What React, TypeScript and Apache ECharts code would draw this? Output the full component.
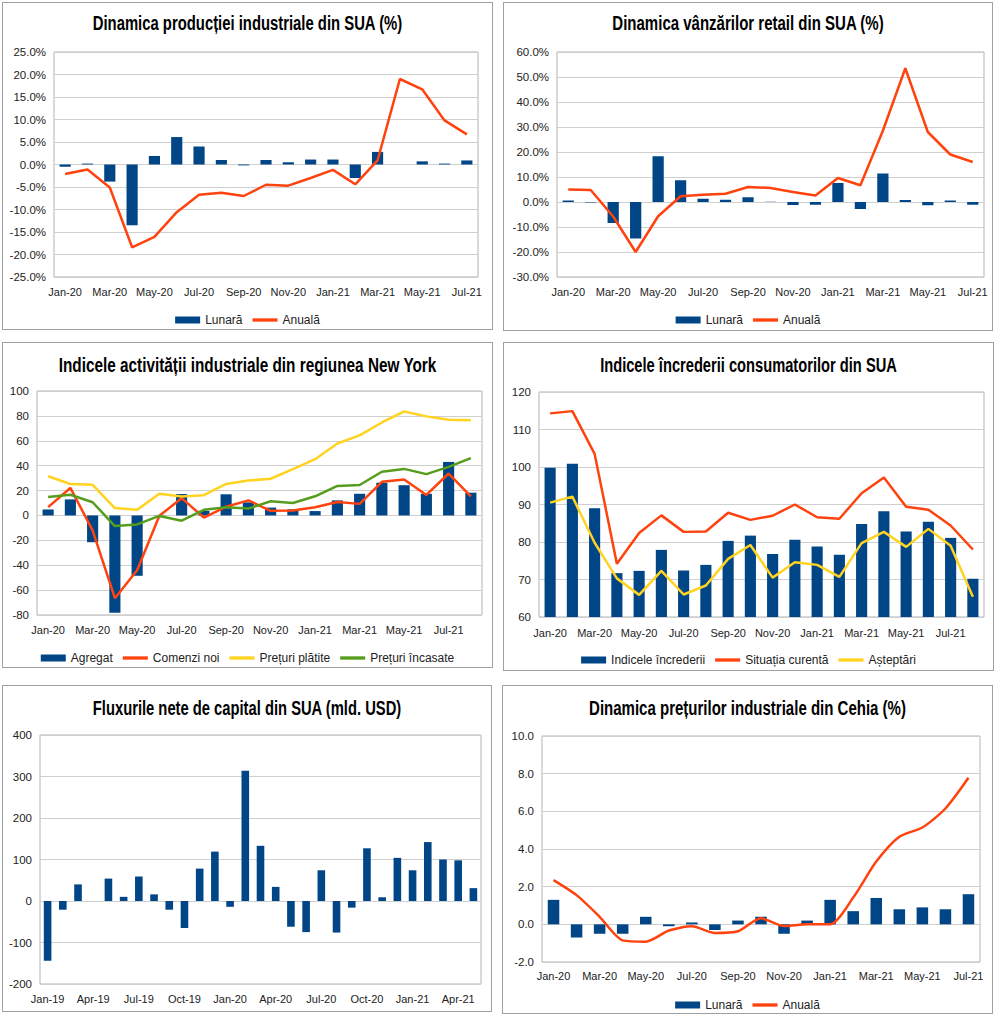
import React, { useEffect, useRef } from "react";
import * as echarts from "echarts";

// ---------- categories ----------
const months19 = ["Jan-20","Feb-20","Mar-20","Apr-20","May-20","Jun-20","Jul-20","Aug-20","Sep-20","Oct-20","Nov-20","Dec-20","Jan-21","Feb-21","Mar-21","Apr-21","May-21","Jun-21","Jul-21"];
const months20 = ["Jan-20","Feb-20","Mar-20","Apr-20","May-20","Jun-20","Jul-20","Aug-20","Sep-20","Oct-20","Nov-20","Dec-20","Jan-21","Feb-21","Mar-21","Apr-21","May-21","Jun-21","Jul-21","Aug-21"];
const months29 = ["Jan-19","Feb-19","Mar-19","Apr-19","May-19","Jun-19","Jul-19","Aug-19","Sep-19","Oct-19","Nov-19","Dec-19","Jan-20","Feb-20","Mar-20","Apr-20","May-20","Jun-20","Jul-20","Aug-20","Sep-20","Oct-20","Nov-20","Dec-20","Jan-21","Feb-21","Mar-21","Apr-21","May-21"];

// ---------- 1. US industrial production (%) ----------
const indProdMonthly = [-0.5, 0.2, -3.8, -13.5, 1.9, 6.1, 4.0, 1.0, -0.2, 1.0, 0.5, 1.1, 1.1, -3.0, 2.8, 0.0, 0.7, 0.2, 0.9];
const indProdAnnual = [-2.1, -1.1, -5.1, -18.4, -16.1, -10.6, -6.7, -6.3, -7.0, -4.5, -4.7, -3.0, -1.2, -4.4, 0.9, 19.0, 16.7, 9.8, 6.7];

// ---------- 2. US retail sales (%) ----------
const retailMonthly = [0.6, -0.2, -8.4, -14.6, 18.3, 8.7, 1.3, 0.9, 1.9, 0.1, -1.2, -1.1, 7.6, -2.8, 11.4, 0.8, -1.3, 0.6, -1.1];
const retailAnnual = [5.0, 4.8, -5.8, -20.0, -5.7, 2.3, 2.9, 3.3, 6.0, 5.6, 4.0, 2.6, 9.6, 6.7, 28.5, 53.5, 28.0, 19.0, 16.0];

// ---------- 3. Empire State manufacturing ----------
const nyAgregat = [4.8, 12.9, -21.5, -78.2, -48.5, -0.2, 17.2, 3.7, 17.0, 10.5, 6.3, 4.9, 3.5, 12.1, 17.4, 26.3, 24.3, 17.4, 43.0, 18.3];
const nyOrders = [6.7, 22.1, -12.0, -66.5, -44.0, -0.3, 13.9, -1.7, 7.0, 12.1, 3.7, 4.0, 6.6, 10.8, 9.3, 27.0, 28.9, 16.5, 33.7, 15.4];
const nyPaid = [31.5, 25.3, 24.6, 5.9, 4.5, 17.4, 15.2, 16.3, 25.3, 28.0, 29.5, 37.2, 45.2, 57.8, 64.3, 74.7, 83.6, 79.6, 76.9, 76.4];
const nyReceived = [14.8, 16.6, 10.6, -8.5, -7.2, -0.4, -4.2, 4.5, 6.6, 5.5, 11.4, 10.0, 15.4, 23.7, 24.5, 35.1, 37.4, 33.2, 39.0, 46.0];

// ---------- 4. US consumer confidence ----------
const ccIndex = [99.8, 100.9, 89.0, 71.7, 72.3, 77.9, 72.4, 73.9, 80.3, 81.7, 76.8, 80.6, 78.8, 76.6, 84.8, 88.2, 82.8, 85.4, 81.1, 70.2];
const ccCurrent = [114.3, 114.9, 103.5, 74.2, 82.4, 87.1, 82.7, 82.8, 87.8, 85.9, 87.0, 90.0, 86.6, 86.2, 93.0, 97.2, 89.4, 88.6, 84.4, 78.0];
const ccExpect = [90.5, 92.1, 79.8, 70.3, 65.9, 72.3, 66.0, 68.4, 75.5, 79.2, 70.5, 74.6, 73.9, 70.7, 79.7, 82.7, 78.7, 83.5, 79.0, 65.4];

// ---------- 5. US net capital flows (bn USD) ----------
const capitalFlows = [-144, -21, 40, 0, 54, 10, 59, 16, -21, -65, 78, 119, -14, 314, 133, 34, -62, -75, 74, -76, -16, 127, 9, 104, 74, 142, 100, 98, 31];

// ---------- 6. Czech industrial prices (%) ----------
const czMonthly = [1.3, -0.7, -0.5, -0.5, 0.4, -0.1, 0.1, -0.3, 0.2, 0.4, -0.5, 0.2, 1.3, 0.7, 1.4, 0.8, 0.9, 0.8, 1.6];
const czAnnual = [2.35, 1.55, 0.4, -0.85, -0.92, -0.33, -0.1, -0.46, -0.37, 0.32, -0.09, 0.0, 0.0, 1.42, 3.33, 4.65, 5.14, 6.15, 7.78];

const BLUE = "#004586";
const ORANGE = "#ff420e";
const YELLOW = "#ffd320";
const GREEN = "#579d1c";
const LABEL_FONT = "Liberation Sans";
const TITLE_FONT = "Liberation Sans";
const TITLE_SIZE = 20;
const LINE_ICON = "path://M0 0H30V4H0Z";

function measure(text: string): number {
  try {
    const c = document.createElement("canvas");
    const ctx = c.getContext("2d");
    if (!ctx) return text.length * 10;
    ctx.font = `bold ${TITLE_SIZE}px "${TITLE_FONT}"`;
    return ctx.measureText(text).width;
  } catch (e) {
    return text.length * 10;
  }
}

type Box = { l: number; t: number; w: number; h: number };

function Chart({ box, option }: { box: Box; option: any }) {
  const ref = useRef<HTMLDivElement>(null);
  useEffect(() => {
    const c = echarts.init(ref.current as HTMLDivElement, null, { renderer: "svg" });
    c.setOption(option);
    return () => c.dispose();
  }, []);
  return (
    <div
      style={{
        position: "absolute",
        left: box.l,
        top: box.t,
        width: box.w,
        height: box.h,
        border: "1px solid #a0a0a0",
        boxSizing: "border-box",
        background: "#fff",
      }}
    >
      <div ref={ref} style={{ width: box.w - 2, height: box.h - 2 }} />
    </div>
  );
}

function build(p: {
  box: Box;
  plot: { x: number; y: number; w: number; h: number };
  title: string;
  titleY: number;
  titleW: number;
  legendY?: number;
  cats: string[];
  labelInterval: number;
  labelMargin: number;
  yMin: number;
  yMax: number;
  yInterval: number;
  fmt: (v: number) => string;
  series: any[];
  legend?: any[];
}) {
  const ox = p.box.l + 1;
  const oy = p.box.t + 1;
  const cw = p.box.w - 2;
  const scaleX = Math.min(1, p.titleW / measure(p.title));
  const opt: any = {
    animation: false,
    graphic: [
      {
        type: "text",
        x: cw / 2,
        y: p.titleY - oy,
        scaleX,
        style: {
          text: p.title,
          fontFamily: TITLE_FONT,
          fontWeight: "bold",
          fontSize: TITLE_SIZE,
          fill: "#000",
          textAlign: "center",
          textVerticalAlign: "middle",
          align: "center",
          verticalAlign: "middle",
        },
      },
    ],
    grid: {
      left: p.plot.x - ox,
      top: p.plot.y - oy,
      width: p.plot.w,
      height: p.plot.h,
      show: true,
      borderColor: "#b3b3b3",
      borderWidth: 1,
      containLabel: false,
    },
    xAxis: {
      type: "category",
      data: p.cats,
      boundaryGap: true,
      axisLine: { show: false },
      axisTick: { show: false },
      splitLine: { show: false },
      axisLabel: {
        interval: p.labelInterval,
        margin: p.labelMargin,
        fontSize: 11,
        fontFamily: LABEL_FONT,
        color: "#222",
      },
    },
    yAxis: {
      type: "value",
      min: p.yMin,
      max: p.yMax,
      interval: p.yInterval,
      axisLine: { show: false },
      axisTick: { show: false },
      splitLine: { show: true, lineStyle: { color: "#cfcfcf", width: 1 } },
      axisLabel: {
        formatter: p.fmt,
        margin: 8,
        fontSize: 11.5,
        fontFamily: LABEL_FONT,
        color: "#222",
      },
    },
    series: p.series,
  };
  if (p.legend && p.legendY !== undefined) {
    opt.legend = {
      data: p.legend,
      left: "center",
      top: p.legendY - oy - 7,
      padding: 0,
      itemWidth: 25,
      itemHeight: 7,
      itemGap: 10,
      textStyle: { fontSize: 12, fontFamily: LABEL_FONT, color: "#222", padding: [1, 0, 0, 0] },
    };
  }
  return opt;
}

const bar = (name: string, data: number[], w = "50%") => ({
  type: "bar",
  name,
  data,
  barWidth: w,
  itemStyle: { color: BLUE },
});
const line = (name: string, data: number[], color: string, smooth: number | boolean = false) => ({
  type: "line",
  name,
  data,
  symbol: "none",
  smooth,
  lineStyle: { color, width: 2.5 },
  itemStyle: { color },
});

const pct1 = (v: number) => v.toFixed(1) + "%";
const dec1 = (v: number) => v.toFixed(1);
const int0 = (v: number) => String(v);

const boxes: Box[] = [
  { l: 2, t: 2, w: 491, h: 328 },
  { l: 503, t: 2, w: 490, h: 329 },
  { l: 2, t: 342, w: 491, h: 326 },
  { l: 503, t: 342, w: 491, h: 329 },
  { l: 2, t: 685, w: 490, h: 327 },
  { l: 502, t: 685, w: 491, h: 329 },
];

const options = [
  build({
    box: boxes[0],
    plot: { x: 54, y: 52, w: 424, h: 225 },
    title: "Dinamica producției industriale din SUA (%)",
    titleY: 23,
    titleW: 310,
    legendY: 321,
    cats: months19,
    labelInterval: 1,
    labelMargin: 9,
    yMin: -25,
    yMax: 25,
    yInterval: 5,
    fmt: pct1,
    series: [bar("Lunară", indProdMonthly), line("Anuală", indProdAnnual, ORANGE)],
    legend: [{ name: "Lunară", icon: "rect" }, { name: "Anuală", icon: LINE_ICON }],
  }),
  build({
    box: boxes[1],
    plot: { x: 557, y: 52, w: 427, h: 225 },
    title: "Dinamica vânzărilor retail din SUA (%)",
    titleY: 23,
    titleW: 272,
    legendY: 321,
    cats: months19,
    labelInterval: 1,
    labelMargin: 9,
    yMin: -30,
    yMax: 60,
    yInterval: 10,
    fmt: pct1,
    series: [bar("Lunară", retailMonthly), line("Anuală", retailAnnual, ORANGE)],
    legend: [{ name: "Lunară", icon: "rect" }, { name: "Anuală", icon: LINE_ICON }],
  }),
  build({
    box: boxes[2],
    plot: { x: 37, y: 391, w: 445, h: 224 },
    title: "Indicele activității industriale din regiunea New York",
    titleY: 365,
    titleW: 378,
    legendY: 659,
    cats: months20,
    labelInterval: 1,
    labelMargin: 9,
    yMin: -80,
    yMax: 100,
    yInterval: 20,
    fmt: int0,
    series: [
      bar("Agregat", nyAgregat),
      line("Comenzi noi", nyOrders, ORANGE),
      line("Prețuri plătite", nyPaid, YELLOW),
      line("Prețuri încasate", nyReceived, GREEN),
    ],
    legend: [
      { name: "Agregat", icon: "rect" },
      { name: "Comenzi noi", icon: LINE_ICON },
      { name: "Prețuri plătite", icon: LINE_ICON },
      { name: "Prețuri încasate", icon: LINE_ICON },
    ],
  }),
  build({
    box: boxes[3],
    plot: { x: 539, y: 392, w: 445, h: 225 },
    title: "Indicele încrederii consumatorilor din SUA",
    titleY: 365,
    titleW: 297,
    legendY: 661,
    cats: months20,
    labelInterval: 1,
    labelMargin: 10,
    yMin: 60,
    yMax: 120,
    yInterval: 10,
    fmt: int0,
    series: [
      bar("Indicele încrederii", ccIndex),
      line("Situația curentă", ccCurrent, ORANGE),
      line("Așteptări", ccExpect, YELLOW),
    ],
    legend: [
      { name: "Indicele încrederii", icon: "rect" },
      { name: "Situația curentă", icon: LINE_ICON },
      { name: "Așteptări", icon: LINE_ICON },
    ],
  }),
  build({
    box: boxes[4],
    plot: { x: 40, y: 735, w: 441, h: 249 },
    title: "Fluxurile nete de capital din SUA (mld. USD)",
    titleY: 708,
    titleW: 309,
    cats: months29,
    labelInterval: 2,
    labelMargin: 9,
    yMin: -200,
    yMax: 400,
    yInterval: 100,
    fmt: int0,
    series: [bar("Fluxuri", capitalFlows)],
  }),
  build({
    box: boxes[5],
    plot: { x: 542, y: 736, w: 438, h: 226 },
    title: "Dinamica prețurilor industriale din Cehia (%)",
    titleY: 708,
    titleW: 317,
    legendY: 1006,
    cats: months19,
    labelInterval: 1,
    labelMargin: 8,
    yMin: -2,
    yMax: 10,
    yInterval: 2,
    fmt: dec1,
    series: [bar("Lunară", czMonthly), line("Anuală", czAnnual, ORANGE, 0.25)],
    legend: [{ name: "Lunară", icon: "rect" }, { name: "Anuală", icon: LINE_ICON }],
  }),
];

export default function App() {
  return (
    <div style={{ position: "absolute", left: 0, top: 0, width: 1000, height: 1016, background: "#fff" }}>
      {boxes.map((b, i) => (
        <Chart key={i} box={b} option={options[i]} />
      ))}
    </div>
  );
}
